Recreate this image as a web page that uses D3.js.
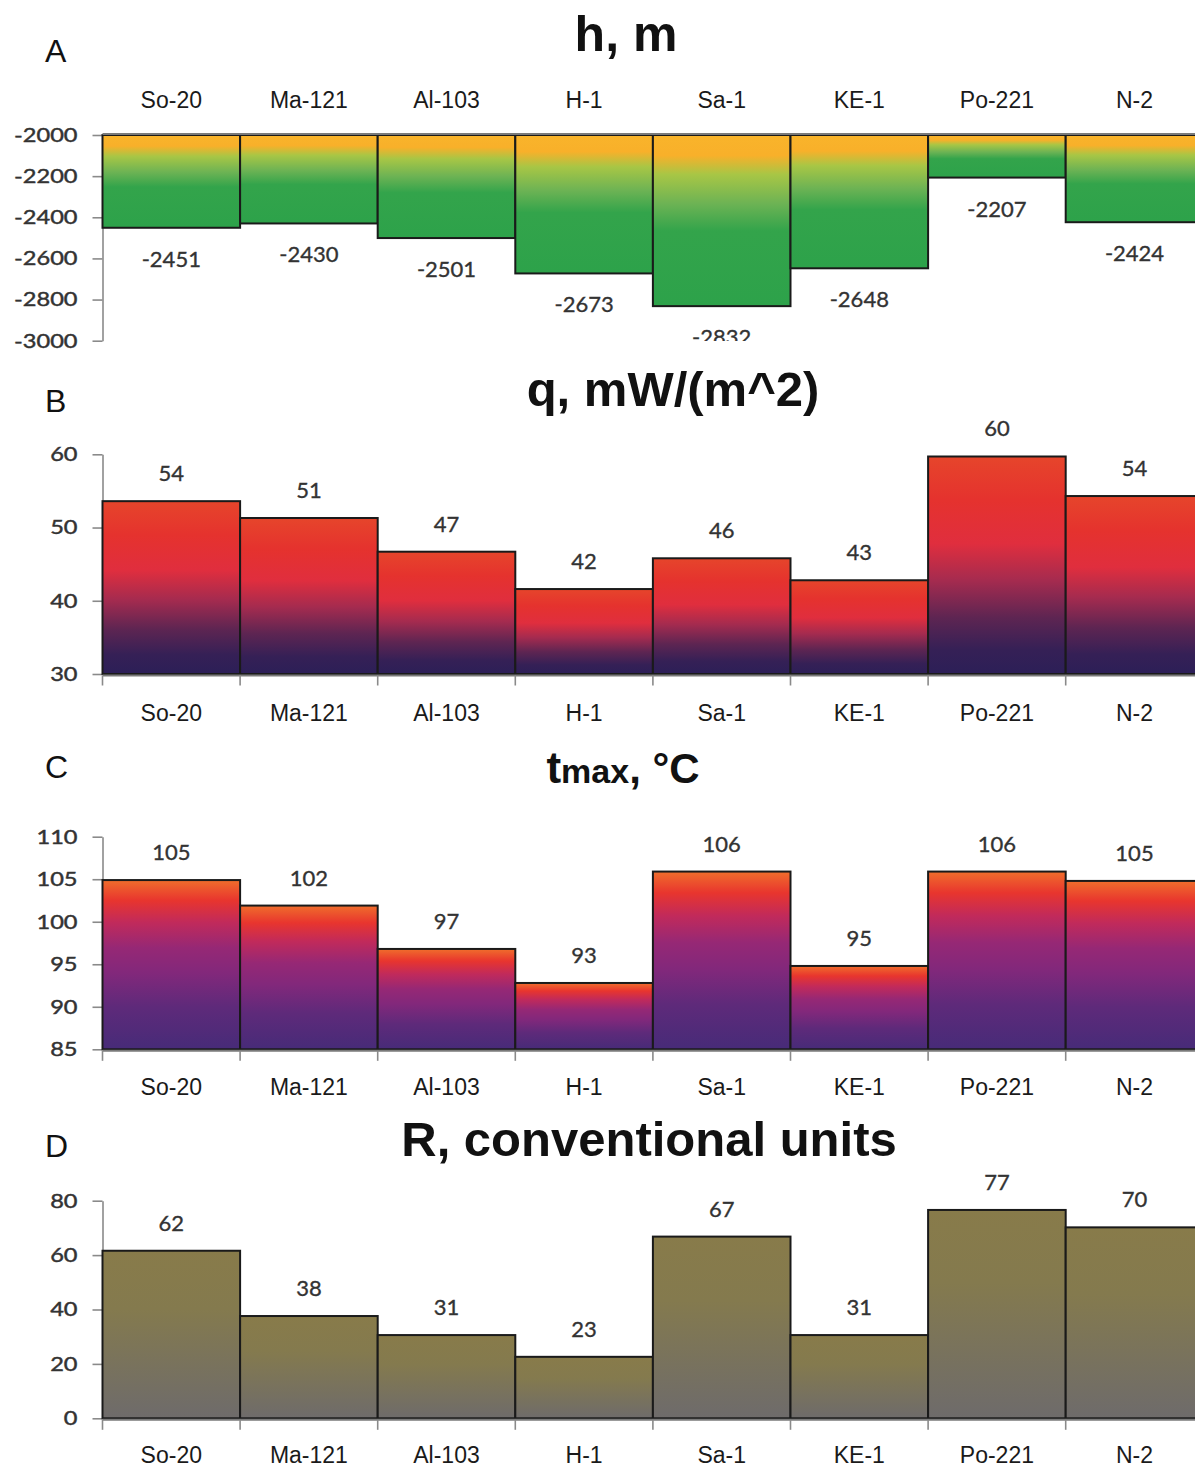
<!DOCTYPE html>
<html>
<head>
<meta charset="utf-8">
<script src="https://cdn.jsdelivr.net/npm/d3@7"></script>
<style>
  body { margin: 0; background: #fff; }
  svg { display: block; }
</style>
</head>
<body>
<script>
// ---------- data ----------
const categories = ["So-20", "Ma-121", "Al-103", "H-1", "Sa-1", "KE-1", "Po-221", "N-2"];
const depthValues = [-2451, -2430, -2501, -2673, -2832, -2648, -2207, -2424];
const heatFlowValues = [53.6, 51.3, 46.7, 41.6, 45.8, 42.8, 59.7, 54.3];
const tempValues = [104.9, 101.9, 96.8, 92.8, 105.9, 94.8, 105.9, 104.8];
const rValues = [61.6, 37.6, 30.6, 22.6, 66.8, 30.6, 76.6, 70.2];

const depthTicks = [-2000, -2200, -2400, -2600, -2800, -3000];
const heatFlowTicks = [30, 40, 50, 60];
const tempTicks = [85, 90, 95, 100, 105, 110];
const rTicks = [0, 20, 40, 60, 80];

const panelLetters = ["A", "B", "C", "D"];

// ---------- setup ----------
const W = 1195, H = 1468;
const svg = d3.select("body").append("svg").attr("width", W).attr("height", H);
const defs = svg.append("defs");

function makeGrad(id, stops) {
  const g = defs.append("linearGradient").attr("id", id)
    .attr("x1", 0).attr("y1", 0).attr("x2", 0).attr("y2", 1);
  stops.forEach(s => g.append("stop").attr("offset", s[0]).attr("stop-color", s[1]));
}
makeGrad("gA", [[0, "#F9B42B"], [0.12, "#F8B02A"], [0.23, "#A8C645"], [0.4, "#6DB354"], [0.56, "#33A44B"], [1, "#2DA24A"]]);
makeGrad("gB", [[0, "#E6452B"], [0.2, "#E5322E"], [0.4, "#E02E3E"], [0.57, "#A52B4F"], [0.74, "#5E2552"], [0.89, "#352056"], [1, "#2C1F57"]]);
makeGrad("gC", [[0, "#F06E2C"], [0.12, "#E8352E"], [0.25, "#C12A5B"], [0.4, "#962875"], [0.55, "#82287B"], [0.75, "#5E2A7A"], [1, "#472B78"]]);
makeGrad("gD", [[0, "#887B4A"], [0.35, "#847A4E"], [1, "#6E6B6B"]]);

defs.append("clipPath").attr("id", "clipA")
  .append("rect").attr("x", 0).attr("y", 0).attr("width", W).attr("height", 341);

const x = d3.scaleBand().domain(categories).range([102.5, 102.5 + 8 * 137.6]).padding(0);

const panels = [
  { letter: panelLetters[0], letterY: 62, values: depthValues, domain: [-2000, -3000], range: [135, 340.7],
    ticks: depthTicks, grad: "gA", below: true, catY: 108, clip: "clipA",
    titleX: 626, titleY: 51, title: [["h, m", 50, "bold"]] },
  { letter: panelLetters[1], letterY: 412, values: heatFlowValues, domain: [30, 60], range: [674, 454.3],
    ticks: heatFlowTicks, grad: "gB", below: false, catY: 721,
    titleX: 673, titleY: 406, title: [["q, mW/(m^2)", 49, "bold"]] },
  { letter: panelLetters[2], letterY: 778, values: tempValues, domain: [85, 110], range: [1049.3, 836.7],
    ticks: tempTicks, grad: "gC", below: false, catY: 1095,
    titleX: 623, titleY: 783, title: [["t", 44, "bold"], ["max", 34, "bold"], [", °C", 42, "bold"]] },
  { letter: panelLetters[3], letterY: 1157, values: rValues, domain: [0, 80], range: [1418.3, 1200.7],
    ticks: rTicks, grad: "gD", below: false, catY: 1463,
    titleX: 649, titleY: 1156, title: [["R, conventional units", 49, "bold"]] }
];

const fmt = v => String(Math.round(v));
const tickStretch = 1.18;

panels.forEach(p => {
  const g = svg.append("g");
  const y = d3.scaleLinear().domain(p.domain).range(p.range);
  const base = y(p.domain[0]);

  // panel letter
  g.append("text").attr("x", 45).attr("y", p.letterY)
    .attr("font-family", "Liberation Sans, Arial, sans-serif").attr("font-size", 32)
    .attr("fill", "#111").text(p.letter);

  // title
  const t = g.append("text").attr("x", p.titleX).attr("y", p.titleY)
    .attr("text-anchor", "middle")
    .attr("font-family", "Liberation Sans, Arial, sans-serif").attr("fill", "#111");
  p.title.forEach(s => t.append("tspan").attr("font-size", s[1]).attr("font-weight", s[2]).text(s[0]));

  // y axis
  const ax = g.append("g").attr("transform", "translate(102.5,0)")
    .call(d3.axisLeft(y).tickValues(p.ticks).tickSize(10).tickSizeOuter(0).tickPadding(15).tickFormat(d => String(d)));
  ax.select(".domain").attr("stroke", "#8a8a8a").attr("stroke-width", 1.6);
  ax.selectAll(".tick line").attr("stroke", "#8a8a8a").attr("stroke-width", 1.6);
  ax.selectAll(".tick text").attr("font-family", "Lato, 'Open Sans', sans-serif")
    .attr("font-size", 20).attr("fill", "#333")
    .attr("stroke", "#333").attr("stroke-width", 0.45)
    .attr("x", -25 / tickStretch)
    .attr("transform", `scale(${tickStretch},1)`);

  // bars
  g.selectAll("rect.bar").data(categories).enter().append("rect").attr("class", "bar")
    .attr("x", c => x(c))
    .attr("width", x.bandwidth())
    .attr("y", (c, i) => Math.min(base, y(p.values[i])))
    .attr("height", (c, i) => Math.abs(y(p.values[i]) - base))
    .attr("fill", `url(#${p.grad})`)
    .attr("stroke", "#1a1a1a").attr("stroke-width", 2);

  // category axis line + ticks
  const lineY = p.below ? base - 1 : base + 1.5;
  g.append("line").attr("x1", 102.5).attr("x2", W).attr("y1", lineY).attr("y2", lineY)
    .attr("stroke", "#7a7a7a").attr("stroke-width", 2);
  if (!p.below) {
    g.selectAll("line.ctick").data(categories).enter().append("line").attr("class", "ctick")
      .attr("x1", c => x(c)).attr("x2", c => x(c))
      .attr("y1", lineY).attr("y2", lineY + 10)
      .attr("stroke", "#8a8a8a").attr("stroke-width", 1.6);
  }

  // category labels
  g.selectAll("text.cat").data(categories).enter().append("text").attr("class", "cat")
    .attr("x", c => x(c) + x.bandwidth() / 2).attr("y", p.catY)
    .attr("text-anchor", "middle")
    .attr("font-family", "Liberation Sans, Arial, sans-serif").attr("font-size", 23)
    .attr("fill", "#1a1a1a").text(c => c);

  // value labels
  const lg = g.append("g");
  if (p.clip) lg.attr("clip-path", `url(#${p.clip})`);
  lg.selectAll("text.val").data(categories).enter().append("text").attr("class", "val")
    .attr("x", c => x(c) + x.bandwidth() / 2)
    .attr("y", (c, i) => p.below ? y(p.values[i]) + 39 : y(p.values[i]) - 20)
    .attr("text-anchor", "middle")
    .attr("font-family", "Lato, 'Open Sans', sans-serif").attr("font-size", 22)
    .attr("fill", "#333").attr("stroke", "#333").attr("stroke-width", 0.35)
    .text((c, i) => fmt(p.values[i]));
});
</script>
</body>
</html>
